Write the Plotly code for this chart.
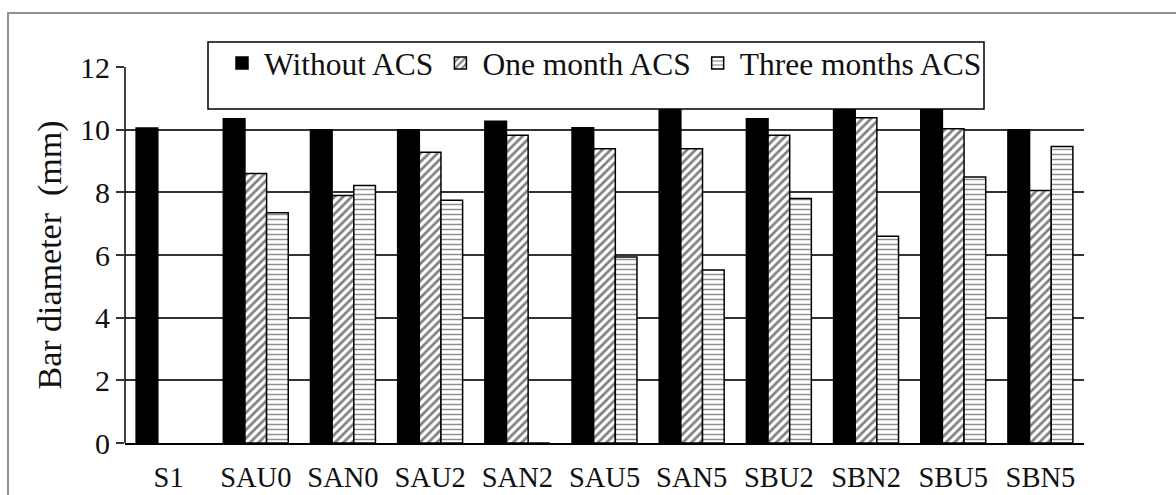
import plotly.graph_objects as go

# Specimens and measured bar diameters (mm)
specimens = ["S1", "SAU0", "SAN0", "SAU2", "SAN2", "SAU5", "SAN5",
             "SBU2", "SBN2", "SBU5", "SBN5"]
without_acs = [10.05, 10.35, 10.0, 10.0, 10.27, 10.06, 10.75,
               10.35, 10.8, 10.75, 10.0]
one_month_acs = [None, 8.6, 7.9, 9.28, 9.82, 9.39, 9.39,
                 9.82, 10.38, 10.03, 8.06]
three_months_acs = [None, 7.35, 8.22, 7.75, 0.0, 5.94, 5.52,
                    7.8, 6.6, 8.49, 9.46]
y_ticks = [0, 2, 4, 6, 8, 10, 12]

FONT = "Times New Roman, Liberation Serif, serif"
INK = "#111111"

fig = go.Figure()
fig.add_trace(go.Bar(
    name="Without ACS", x=specimens, y=without_acs,
    marker=dict(color="black", line=dict(color="black", width=1.5)),
))
fig.add_trace(go.Bar(
    name="One month ACS", x=specimens, y=one_month_acs,
    marker=dict(color="white", line=dict(color="black", width=1.5),
                pattern=dict(shape="/", fgcolor="black", bgcolor="white",
                             size=6, solidity=0.45)),
))
fig.add_trace(go.Bar(
    name="Three months ACS", x=specimens, y=three_months_acs,
    marker=dict(color="white", line=dict(color="black", width=1.5),
                pattern=dict(shape="-", fgcolor="#222222", bgcolor="white",
                             size=5, solidity=0.3)),
))

W, H = 1176, 495
L, R, T, B = 125, 92, 67, 52
pw, ph = W - L - R, H - T - B


def px_x(x):
    return (x - L) / pw


def px_y(y):
    return (H - B - y) / ph


shapes = [
    # outer frame of the figure
    dict(type="rect", xref="paper", yref="paper",
         x0=px_x(8), x1=px_x(1190), y0=px_y(510), y1=px_y(13),
         line=dict(color="#909090", width=2), fillcolor="rgba(0,0,0,0)",
         layer="below"),
    # legend box
    dict(type="rect", xref="paper", yref="paper",
         x0=px_x(208), x1=px_x(984), y0=px_y(109), y1=px_y(42),
         line=dict(color="black", width=1.5), fillcolor="white",
         layer="above"),
    # vertical value axis line
    dict(type="line", xref="paper", yref="paper",
         x0=0, x1=0, y0=0, y1=1, line=dict(color="black", width=1.5),
         layer="above"),
]

fig.update_layout(
    width=W, height=H,
    margin=dict(l=L, r=R, t=T, b=B, autoexpand=False),
    paper_bgcolor="white", plot_bgcolor="white",
    barmode="group", bargap=0.255, bargroupgap=0,
    font=dict(family=FONT, color=INK, size=28),
    shapes=shapes,
    showlegend=True,
    legend=dict(orientation="h", x=px_x(220), xanchor="left",
                y=px_y(63), yanchor="middle", itemwidth=34,
                bgcolor="rgba(0,0,0,0)", borderwidth=0,
                font=dict(family=FONT, size=31.5, color=INK),
                traceorder="normal"),
    xaxis=dict(showgrid=False, showline=True, linecolor="black", linewidth=1.5,
               ticks="", tickfont=dict(family=FONT, size=28.5, color=INK),
               ticklabelstandoff=8),
    yaxis=dict(range=[0, 12], tickvals=y_ticks, showgrid=True,
               gridcolor="#333333", gridwidth=2, zeroline=False,
               showline=False, ticks="outside", ticklen=8,
               tickcolor="#333333", tickwidth=2,
               tickfont=dict(family=FONT, size=30, color=INK),
               title=dict(text="Bar diameter  (mm)", standoff=8,
                          font=dict(family=FONT, size=34, color=INK))),
)

fig.write_html("out.html")
